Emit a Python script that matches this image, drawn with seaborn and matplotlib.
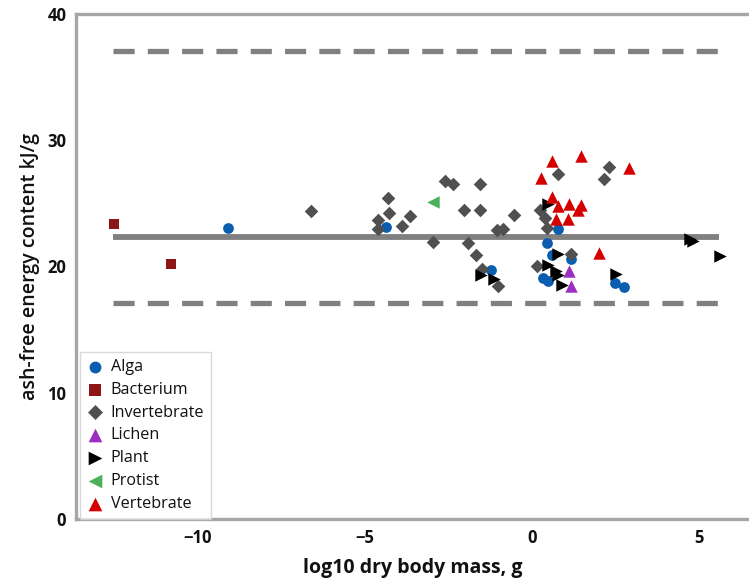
import pandas as pd
import matplotlib.pyplot as plt
import seaborn as sns

# log10 dry body mass (g) and ash-free energy content (kJ/g)
alga_x = [-9.11, -4.38, -1.21, 0.77, 0.46, 0.61, 1.17, 0.32, 0.49, 2.49, 2.75]
alga_y = [23.07, 23.15, 19.68, 22.99, 21.88, 20.87, 20.56, 19.10, 18.83, 18.71, 18.36]

bacterium_x = [-12.5, -10.8]
bacterium_y = [23.4, 20.2]

invertebrate_x = [-6.60, -4.30, -4.28, -4.60, -4.60, -3.65, -3.88, -2.60, -2.36, -1.54,
                  -2.04, -1.54, -0.54, -1.06, -0.86, -2.96, -1.91, -1.66, -1.48, -1.01,
                  0.16, 0.24, 0.77, 2.31, 2.16, 0.39, 0.44, 1.17]
invertebrate_y = [24.39, 25.45, 24.21, 23.67, 22.99, 23.99, 23.20, 26.77, 26.51, 26.56,
                  24.44, 24.44, 24.05, 22.88, 22.99, 21.93, 21.83, 20.87, 19.82, 18.44,
                  20.05, 24.47, 27.30, 27.88, 26.90, 23.87, 23.07, 20.95]

lichen_x = [1.11, 1.17]
lichen_y = [19.63, 18.49]

plant_x = [-1.51, -1.14, 0.49, 0.79, 0.47, 0.71, 0.79, 0.91, 2.51, 4.73, 4.82, 5.63]
plant_y = [19.29, 18.97, 24.92, 20.95, 20.08, 19.63, 19.29, 18.57, 19.37, 22.14, 21.98, 20.82]

protist_x = [-2.96]
protist_y = [25.10]

vertebrate_x = [0.61, 1.46, 2.90, 0.26, 0.61, 0.77, 1.12, 1.46, 1.39, 0.72, 1.07, 2.01]
vertebrate_y = [28.36, 28.71, 27.83, 27.04, 25.53, 24.79, 24.92, 24.84, 24.47, 23.79, 23.79, 21.09]

groups = ['Alga', 'Bacterium', 'Invertebrate', 'Lichen', 'Plant', 'Protist', 'Vertebrate']
xs = [alga_x, bacterium_x, invertebrate_x, lichen_x, plant_x, protist_x, vertebrate_x]
ys = [alga_y, bacterium_y, invertebrate_y, lichen_y, plant_y, protist_y, vertebrate_y]

mean_line = 22.35
upper_line = 37.1
lower_line = 17.1
line_start, line_end = -12.55, 5.6

colors = {'Alga': '#0a5eb0', 'Bacterium': '#8e1515', 'Invertebrate': '#505050',
          'Lichen': '#9b2fc0', 'Plant': '#000000', 'Protist': '#4caf5a',
          'Vertebrate': '#d40000'}
markers = {'Alga': 'o', 'Bacterium': 's', 'Invertebrate': 'D', 'Lichen': '^',
           'Plant': '>', 'Protist': '<', 'Vertebrate': '^'}
sizes = {'Alga': 60, 'Bacterium': 55, 'Invertebrate': 48, 'Lichen': 80,
         'Plant': 80, 'Protist': 80, 'Vertebrate': 80}

df = pd.concat([pd.DataFrame({'mass': x, 'energy': y, 'group': g})
                for g, x, y in zip(groups, xs, ys)], ignore_index=True)

sns.set_theme(style="white")
plt.rcParams['font.family'] = ['Open Sans', 'DejaVu Sans']

fig = plt.figure(figsize=(7.49, 5.86), dpi=100)
ax = fig.add_axes([0.1015, 0.1143, 0.8985, 0.862])

spine_col = '#a6a6a6'
line_col = '#808080'

ax.hlines(mean_line, line_start, line_end, color=line_col, lw=4.2, zorder=1)
for yv in (upper_line, lower_line):
    ax.hlines(yv, line_start, line_end, color=line_col, lw=3.8,
              linestyles=(0, (4.0, 2.5)), zorder=1)

for g in groups:
    sub = df[df['group'] == g]
    sns.scatterplot(data=sub, x='mass', y='energy', ax=ax, color=colors[g],
                    marker=markers[g], s=sizes[g], linewidth=0, label=g, zorder=3)

ax.set_xlim(-13.65, 6.5)
ax.set_ylim(0, 40)
ax.set_xticks([-10, -5, 0, 5])
ax.set_yticks([0, 10, 20, 30, 40])

for side in ['left', 'top', 'bottom']:
    ax.spines[side].set_color(spine_col)
    ax.spines[side].set_linewidth(2.4)
ax.spines['right'].set_visible(False)

ax.tick_params(axis='both', which='major', length=4, width=2, color=spine_col,
               direction='out', labelsize=12, pad=3, labelcolor='#111111')
for lbl in ax.get_xticklabels() + ax.get_yticklabels():
    lbl.set_fontweight('bold')

ax.set_xlabel('log10 dry body mass, g', fontsize=14, fontweight='bold',
              labelpad=8, color='#111111')
ax.set_ylabel('ash-free energy content kJ/g', fontsize=14, fontweight='semibold',
              labelpad=5, color='#111111')

leg = ax.legend(loc='lower left', bbox_to_anchor=(0.006, 0.0), borderaxespad=0,
                frameon=True, fancybox=False, fontsize=11.6, handletextpad=0.55,
                labelspacing=0.42, borderpad=0.45, handlelength=0.9, markerscale=1.1)
leg.get_frame().set_edgecolor('#d0d0d0')
leg.get_frame().set_linewidth(1.0)
for t in leg.get_texts():
    t.set_color('#111111')

plt.savefig('out.png', dpi=100)
